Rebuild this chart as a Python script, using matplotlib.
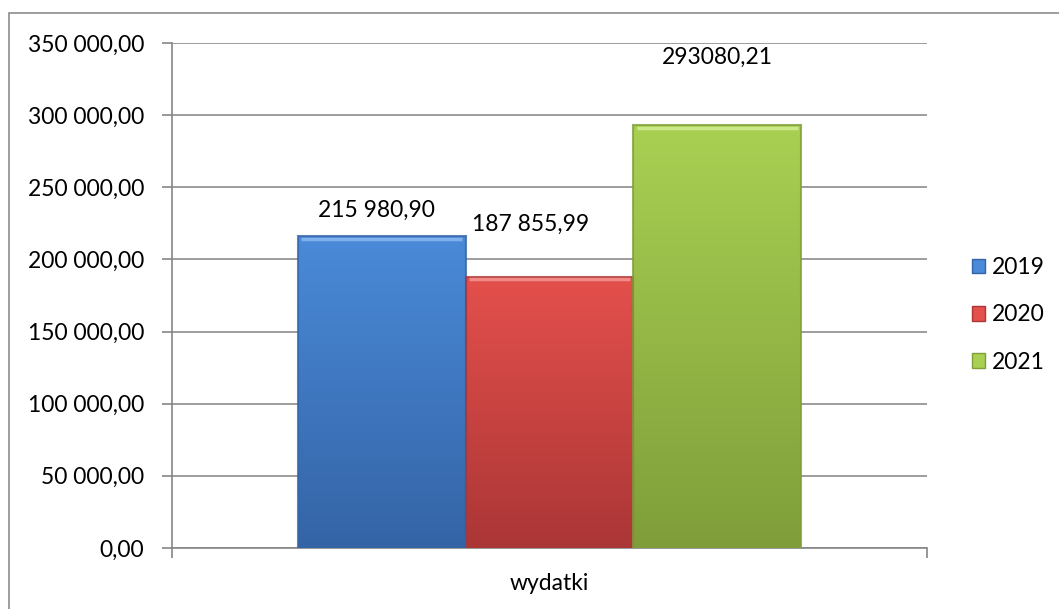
import matplotlib.pyplot as plt
import numpy as np
from matplotlib.patches import Rectangle
from matplotlib.colors import LinearSegmentedColormap

plt.rcParams['font.family'] = ['Lato', 'DejaVu Sans']

category = 'wydatki'
years = ['2019', '2020', '2021']
values = [215980.90, 187855.99, 293080.21]
value_labels = ['215 980,90', '187 855,99', '293080,21']
yticks = [0, 50000, 100000, 150000, 200000, 250000, 300000, 350000]

# top / bottom colours of the gradient fills
top_colors = ['#4a8ad8', '#e4504c', '#a9d052']
bottom_colors = ['#3464a6', '#ab3636', '#7f9e3a']
highlight = ['#7fb0ec', '#f08a86', '#cbe88a']
# label offsets (pt) from bar top to label centre, as placed in the original
label_offsets = [(-4, 19), (-14, 38), (0, 49)]
FS = 16.5


def fmt(v):
    s = '{:,.2f}'.format(v)
    return s.replace(',', ' ').replace('.', ',')


fig = plt.figure(figsize=(10.59, 6.09), dpi=100)
ax = fig.add_axes([0.1624, 0.1002, 0.7130, 0.8292])

# outer border of the chart area (cut off right/bottom)
fig.patches.append(Rectangle((9 / 1059, -0.1), 1.2, 1 - 13 / 609 + 0.1,
                             transform=fig.transFigure, fill=False,
                             edgecolor='#8c8c8c', linewidth=1.2))

width = 0.667 / 3
xs = np.array([-width, 0, width])
bars = ax.bar(xs, values, width=width, color=bottom_colors, edgecolor='none',
              zorder=3)

for b, c1, c2, hl in zip(bars, top_colors, bottom_colors, highlight):
    cmap = LinearSegmentedColormap.from_list('g', [c2, c1])
    x0, w, h = b.get_x(), b.get_width(), b.get_height()
    grad = np.linspace(0, 1, 256).reshape(-1, 1)
    im = ax.imshow(grad, cmap=cmap, origin='lower', aspect='auto',
                   extent=[x0, x0 + w, 0, h], zorder=3)
    im.set_clip_path(b)
    # thin darker edge + light top edge for the bevel look
    ax.add_patch(Rectangle((x0, 0), w, h, fill=False, edgecolor=c2,
                           linewidth=1.5, alpha=0.8, zorder=4))
    ax.plot([x0 + w * 0.02, x0 + w * 0.98], [h * 0.993, h * 0.993],
            color=hl, linewidth=2.5, solid_capstyle='butt', zorder=5)

for b, lab, off in zip(bars, value_labels, label_offsets):
    ax.annotate(lab, (b.get_x() + b.get_width() / 2, b.get_height()),
                xytext=off, textcoords='offset points', ha='center',
                va='center', fontsize=FS, color='black')

ax.set_xlim(-0.5, 0.5)
ax.set_ylim(0, 350000)
ax.set_yticks(yticks)
ax.set_yticklabels([fmt(v) for v in yticks], fontsize=FS)
ax.set_xticks([-0.5, 0.5])
ax.set_xticklabels([])
ax.tick_params(axis='y', direction='out', length=7, color='#868686', width=1.2,
               pad=13)
ax.tick_params(axis='x', direction='out', length=7, color='#868686', width=1.2)
ax.text(0, -0.07, category, transform=ax.get_xaxis_transform(), ha='center',
        va='center', fontsize=FS)

ax.yaxis.grid(True, color='#8c8c8c', linewidth=1.2, zorder=0)
ax.set_axisbelow(True)
for s in ['top', 'right']:
    ax.spines[s].set_visible(False)
for s in ['left', 'bottom']:
    ax.spines[s].set_color('#868686')
    ax.spines[s].set_linewidth(1.2)

handles = [Rectangle((0, 0), 1, 1, facecolor=c, edgecolor=d, linewidth=1)
           for c, d in zip(top_colors, bottom_colors)]
fig.legend(handles, years, loc='center left', bbox_to_anchor=(0.898, 0.483),
           frameon=False, fontsize=FS, handlelength=0.6, handleheight=0.6,
           handletextpad=0.3, labelspacing=1.15)

fig.savefig('out.png', dpi=100)
